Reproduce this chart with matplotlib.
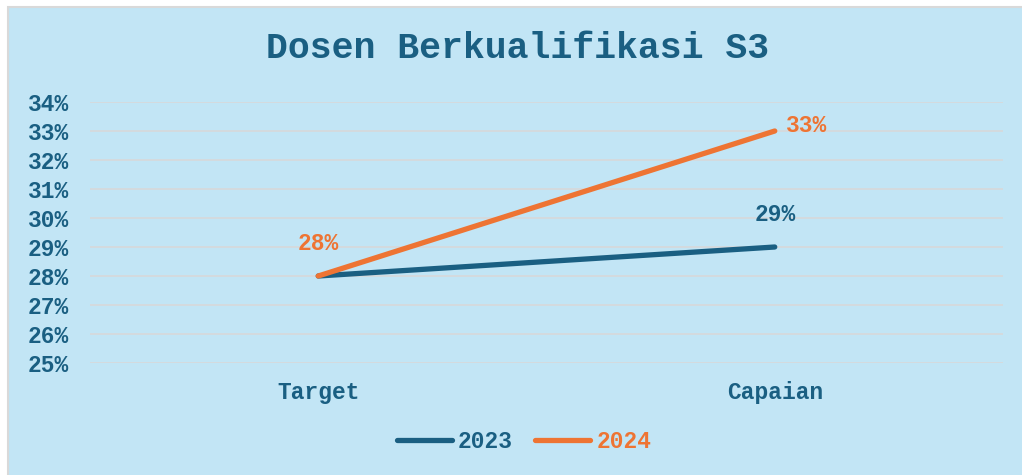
import matplotlib
matplotlib.use("Agg")
import matplotlib.pyplot as plt
from matplotlib.patches import Rectangle
from matplotlib.ticker import FuncFormatter

# ---------------------------------------------------------------------------
# Data
# ---------------------------------------------------------------------------

CATEGORIES = ["Target", "Capaian"]
VALUES_2023 = [0.28, 0.29]
VALUES_2024 = [0.28, 0.33]
SERIES_NAMES = ["2023", "2024"]

BLUE = "#1A5F82"
ORANGE = "#EE7433"
BG = "#C2E5F5"
GRID = "#D5D9DC"
FONT = "Liberation Mono"

W, H = 1022, 475

fig = plt.figure(figsize=(W / 100, H / 100), dpi=100, facecolor="white")

# light blue chart area with thin grey frame on left/top
fig.patches.append(Rectangle((8 / W, -0.1), 1.2, (H - 7) / H + 0.1,
                             transform=fig.transFigure, facecolor=BG,
                             edgecolor="#D9D9D9", linewidth=1.5, zorder=-10))

ax = fig.add_axes([90 / W, (H - 363) / H, 913 / W, 261 / H])
ax.set_facecolor("none")

x = range(len(CATEGORIES))
ax.plot(x, VALUES_2023, color=BLUE, lw=3.8, solid_capstyle="round",
        label=SERIES_NAMES[0], zorder=3)
ax.plot(x, VALUES_2024, color=ORANGE, lw=3.8, solid_capstyle="round",
        label=SERIES_NAMES[1], zorder=4)

ax.set_xlim(-0.5, 1.5)
ax.set_ylim(0.25, 0.34)
ax.set_yticks([0.25 + i / 100 for i in range(10)])
ax.yaxis.set_major_formatter(FuncFormatter(lambda v, _: f"{round(v * 100)}%"))
ax.set_xticks(list(x))
ax.set_xticklabels(CATEGORIES)

ax.grid(axis="y", color=GRID, lw=1.3)
ax.set_axisbelow(True)
for s in ax.spines.values():
    s.set_visible(False)
ax.tick_params(length=0)
ax.tick_params(axis="y", pad=15)
ax.tick_params(axis="x", pad=13)
for lab in ax.get_yticklabels() + ax.get_xticklabels():
    lab.set_fontfamily(FONT)
    lab.set_fontweight("bold")
    lab.set_fontsize(16.5)
    lab.set_color(BLUE)

# data labels
lab_kw = dict(fontfamily=FONT, fontweight="bold", fontsize=16.5)
ax.annotate(f"{VALUES_2023[1]:.0%}", (1, VALUES_2023[1]), xytext=(0, 15),
            textcoords="offset points", ha="center", va="bottom",
            color=BLUE, **lab_kw)
ax.annotate(f"{VALUES_2024[0]:.0%}", (0, VALUES_2024[0]), xytext=(0, 15),
            textcoords="offset points", ha="center", va="bottom",
            color=ORANGE, **lab_kw)
ax.annotate(f"{VALUES_2024[1]:.0%}", (1, VALUES_2024[1]), xytext=(8, 4),
            textcoords="offset points", ha="left", va="center",
            color=ORANGE, **lab_kw)

fig.text(518 / W, (H - 48) / H, "Dosen Berkualifikasi S3", ha="center",
         va="center", fontfamily=FONT, fontweight="bold", fontsize=26.3,
         color=BLUE)

leg = ax.legend(loc="center", bbox_to_anchor=(524 / W, (H - 442) / H),
                bbox_transform=fig.transFigure, ncol=2, frameon=False,
                handlelength=2.4, handletextpad=0.25, columnspacing=1.0,
                prop=dict(family=FONT, weight="bold", size=16.5))
for txt, c in zip(leg.get_texts(), [BLUE, ORANGE]):
    txt.set_color(c)

fig.savefig("out.png", dpi=100, facecolor="white")
